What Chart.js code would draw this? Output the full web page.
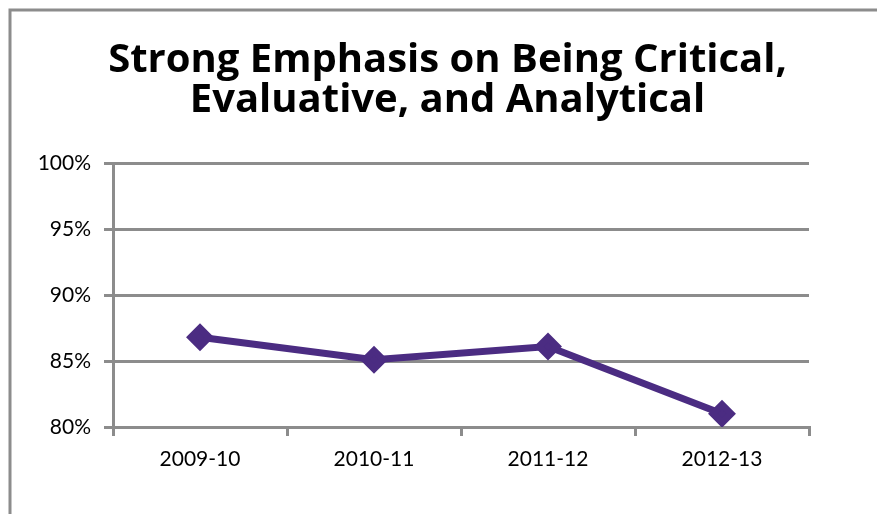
<!DOCTYPE html>
<html>
<head>
<meta charset="utf-8">
<script src="https://cdn.jsdelivr.net/npm/chart.js@4"></script>
<style>
  html, body { margin: 0; padding: 0; background: #fff; }
  #wrap { width: 877px; height: 514px; position: relative; }
</style>
</head>
<body>
<div id="wrap"><canvas id="myChart" width="877" height="514"></canvas></div>
<script>
const years = ["2009-10", "2010-11", "2011-12", "2012-13"];
const emphasis = [86.8, 85.1, 86.1, 81.0];
const yTicks = [80, 85, 90, 95, 100];
const titleLines = ["Strong Emphasis on Being Critical,", "Evaluative, and Analytical"];

// marco gris alrededor del grafico
const marco = {
  id: "marco",
  beforeDraw(chart) {
    const ctx = chart.ctx;
    ctx.save();
    ctx.strokeStyle = "#8c8c8c";
    ctx.lineWidth = 3;
    ctx.strokeRect(10, 10, 900, 600);
    ctx.restore();
  },
};

const ctx = document.getElementById("myChart").getContext("2d");

new Chart(ctx, {
  type: "line",
  data: {
    labels: years,
    datasets: [
      {
        label: "Strong Emphasis",
        data: emphasis,
        borderColor: "#4b2c82",
        backgroundColor: "#4b2c82",
        borderWidth: 7,
        pointStyle: "rectRot",
        pointRadius: 9,
        pointHoverRadius: 9,
        tension: 0,
      },
    ],
  },
  options: {
    responsive: false,
    animation: false,
    layout: { padding: { left: 18, right: 0, top: 0, bottom: 0 } },
    plugins: {
      legend: { display: false },
      tooltip: { enabled: false },
      title: {
        display: true,
        text: titleLines,
        color: "#000",
        font: { family: "Open Sans", size: 40, weight: "bold", lineHeight: 1.0 },
        padding: { top: 41, bottom: 42 },
      },
    },
    scales: {
      x: {
        offset: true,
        grid: {
          offset: true,
          drawOnChartArea: false,
          drawTicks: true,
          tickLength: 9,
          color: "#8c8c8c",
          lineWidth: 3,
        },
        border: { color: "#8c8c8c", width: 3 },
        ticks: {
          color: "#000",
          font: { family: "Lato", size: 21 },
          padding: 11,
        },
        afterFit(scale) {
          scale.height = 87;
        },
      },
      y: {
        min: 80,
        max: 100,
        afterBuildTicks(scale) {
          scale.ticks = yTicks.map((v) => ({ value: v }));
        },
        grid: {
          color: "#8c8c8c",
          lineWidth: 3,
          tickLength: 9,
        },
        border: { color: "#8c8c8c", width: 3 },
        ticks: {
          color: "#000",
          font: { family: "Lato", size: 21 },
          padding: 13,
          callback: (v) => v + "%",
        },
        afterFit(scale) {
          scale.width = 95;
        },
      },
      derecha: {
        position: "right",
        display: true,
        grid: { display: false },
        border: { display: false },
        ticks: { display: false },
        afterFit(scale) {
          scale.width = 68;
        },
      },
    },
  },
  plugins: [marco],
});
</script>
</body>
</html>
